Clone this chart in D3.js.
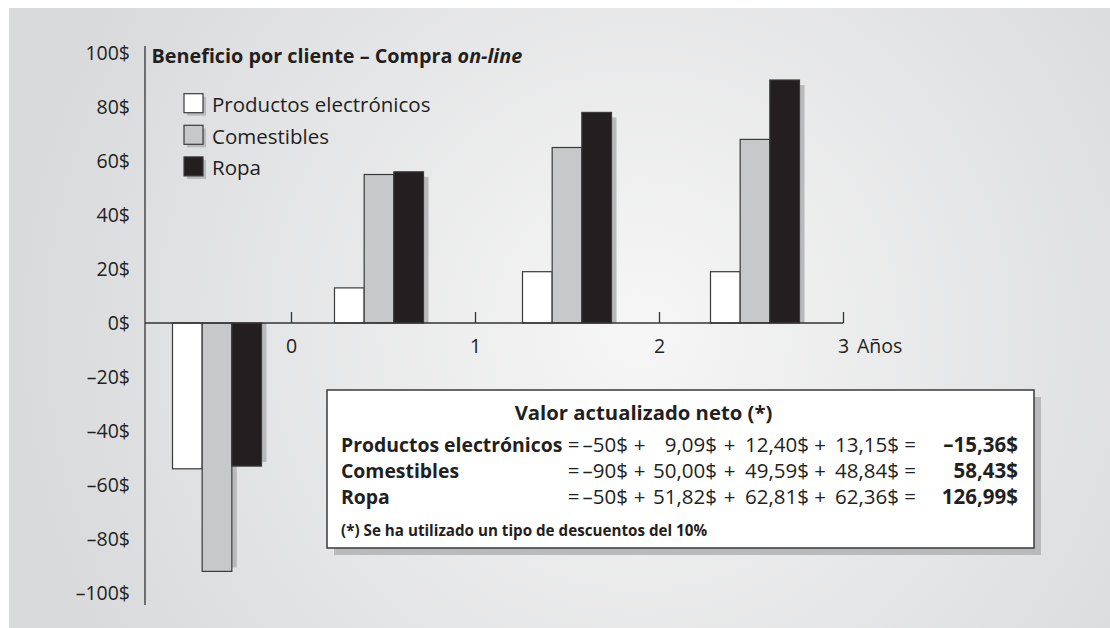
<!DOCTYPE html>
<html><head><meta charset="utf-8">
<script src="https://cdn.jsdelivr.net/npm/d3@7/dist/d3.min.js"></script>
<style>
html,body{margin:0;padding:0;background:#fff;}
svg{display:block;}
text{font-family:"Open Sans","Noto Sans",sans-serif;fill:#231f20;}
</style></head>
<body>
<svg id="chart" width="1110" height="628"></svg>
<script>
// ---- data ----
const periods = [0, 1, 2, 3];
const seriesNames = ["Productos electrónicos", "Comestibles", "Ropa"];
const electronicos = [-54, 13, 19, 19];
const comestibles = [-92, 55, 65, 68];
const ropa = [-53, 56, 78, 90];
const yTicks = [-100, -80, -60, -40, -20, 0, 20, 40, 60, 80, 100];
const xTicks = [0, 1, 2, 3];
const chartTitle = "Beneficio por cliente – Compra ";
const chartTitleItalic = "on-line";
const xAxisLabel = "Años";
const boxTitle = "Valor actualizado neto (*)";
const rowLabels = ["Productos electrónicos", "Comestibles", "Ropa"];
const rowTerms = [
  ["–50$", "9,09$", "12,40$", "13,15$"],
  ["–90$", "50,00$", "49,59$", "48,84$"],
  ["–50$", "51,82$", "62,81$", "62,36$"]
];
const rowResults = ["–15,36$", "58,43$", "126,99$"];
const footnote = "(*) Se ha utilizado un tipo de descuentos del 10%";

// ---- styles ----
const fills = ["#ffffff", "#c7c8ca", "#231f20"];
const shadowCol = "#b9babc";
const ink = "#231f20";

const svg = d3.select("#chart");
const defs = svg.append("defs");
const grad = defs.append("radialGradient").attr("id", "bg")
  .attr("gradientUnits", "userSpaceOnUse")
  .attr("cx", 640).attr("cy", 330).attr("r", 620);
grad.append("stop").attr("offset", "0").attr("stop-color", "#f6f6f6");
grad.append("stop").attr("offset", "1").attr("stop-color", "#d9dadc");
svg.append("rect").attr("x", 9).attr("y", 8).attr("width", 1101).attr("height", 620).attr("fill", "url(#bg)");

// ---- scales ----
const y = d3.scaleLinear().domain([-100, 100]).range([593, 53]);
const x = d3.scaleLinear().domain([0, 3]).range([291, 843]);
// bar groups sit between period ticks (first group before period 0)
const groupX = d3.scaleLinear().domain(periods).range([217, 379, 567, 755]);
const band = d3.scaleBand().domain(seriesNames).range([-44.5, 44.5]).padding(0);

const series = [electronicos, comestibles, ropa];

// ---- bars ----
const g = svg.append("g");
series.forEach((vals, si) => {
  vals.forEach((v, pi) => {
    const bx = groupX(periods[pi]) + band(seriesNames[si]);
    const bw = band.bandwidth();
    const y0 = y(0), y1 = y(v);
    const top = Math.min(y0, y1), h = Math.abs(y1 - y0);
    if (v >= 0) {
      g.append("rect").attr("x", bx + bw).attr("y", top + 5).attr("width", 5).attr("height", Math.max(0, h - 5)).attr("fill", shadowCol);
    } else {
      g.append("rect").attr("x", bx + bw).attr("y", y0).attr("width", 5).attr("height", Math.max(0, h - 4)).attr("fill", shadowCol);
    }
  });
});
series.forEach((vals, si) => {
  vals.forEach((v, pi) => {
    const bx = groupX(periods[pi]) + band(seriesNames[si]);
    const bw = band.bandwidth();
    const y0 = y(0), y1 = y(v);
    g.append("rect").attr("x", bx).attr("y", Math.min(y0, y1)).attr("width", bw)
      .attr("height", Math.abs(y1 - y0)).attr("fill", fills[si])
      .attr("stroke", "#3a3a3a").attr("stroke-width", 1.2);
  });
});

// ---- axes ----
const fmt = d => (d < 0 ? "–" + Math.abs(d) : d) + "$";
const yAx = svg.append("g").attr("transform", "translate(145,0)")
  .call(d3.axisLeft(y).tickValues(yTicks).tickSize(0).tickPadding(15).tickFormat(fmt));
yAx.select(".domain").remove();
yAx.selectAll("text").style("font-size", "19.5px").attr("fill", ink).style("font-family", '"Open Sans",sans-serif');
svg.append("line").attr("x1", 145).attr("x2", 145).attr("y1", 46).attr("y2", 605).attr("stroke", "#333").attr("stroke-width", 1.3);

const xAx = svg.append("g").attr("transform", `translate(0,${y(0)})`)
  .call(d3.axisBottom(x).tickValues(xTicks).tickSize(-11).tickPadding(0).tickFormat(d3.format("d")));
xAx.select(".domain").remove();
xAx.selectAll(".tick line").attr("stroke", "#333").attr("stroke-width", 1.3);
xAx.selectAll("text").attr("y", 30).attr("dy", null).style("font-size", "19.5px").attr("fill", ink).style("font-family", '"Open Sans",sans-serif');
svg.append("line").attr("x1", 145).attr("x2", x(3)).attr("y1", y(0)).attr("y2", y(0)).attr("stroke", "#333").attr("stroke-width", 1.3);
svg.append("text").attr("x", x(3) + 14).attr("y", y(0) + 30)
  .style("font-size", "19.5px").text(xAxisLabel);

// ---- title ----
const t = svg.append("text").attr("x", 151.5).attr("y", 63.3)
  .style("font-size", "19.8px").style("font-weight", "bold");
t.append("tspan").text(chartTitle);
t.append("tspan").style("font-style", "italic").text(chartTitleItalic);

// ---- legend ----
const lg = svg.append("g");
seriesNames.forEach((n, i) => {
  const bottom = 112.7 + i * 31.6;
  lg.append("rect").attr("x", 187).attr("y", bottom - 16).attr("width", 19).attr("height", 19).attr("fill", shadowCol);
  lg.append("rect").attr("x", 184).attr("y", bottom - 19).attr("width", 19).attr("height", 19)
    .attr("fill", fills[i]).attr("stroke", "#3a3a3a").attr("stroke-width", 1.2);
  lg.append("text").attr("x", 212).attr("y", bottom - 0.5).style("font-size", "20.5px").text(n);
});

// ---- NPV box ----
const bx0 = 327, by0 = 390, bx1 = 1034, by1 = 548;
svg.append("rect").attr("x", bx0 + 7).attr("y", by0 + 7).attr("width", bx1 - bx0).attr("height", by1 - by0).attr("fill", shadowCol);
svg.append("rect").attr("x", bx0).attr("y", by0).attr("width", bx1 - bx0).attr("height", by1 - by0)
  .attr("fill", "#fff").attr("stroke", "#3a3a3a").attr("stroke-width", 1.5);
svg.append("text").attr("x", 643.5).attr("y", 419.5).attr("text-anchor", "middle")
  .style("font-size", "20.3px").style("font-weight", "bold").text(boxTitle);

const fs = "20.5px";
const colEnds = [628, 717, 809, 899];
const plusX = [639.5, 729.5, 820];
rowLabels.forEach((lab, r) => {
  const base = 451.7 + r * 26.2;
  const row = svg.append("g");
  row.append("text").attr("x", 341).attr("y", base).style("font-size", "19.4px").style("font-weight", "bold").text(lab);
  row.append("text").attr("x", 573.5).attr("y", base).attr("text-anchor", "middle").style("font-size", fs).text("=");
  rowTerms[r].forEach((term, k) => {
    row.append("text").attr("x", colEnds[k]).attr("y", base).attr("text-anchor", "end").style("font-size", fs).text(term);
    if (k < 3) row.append("text").attr("x", plusX[k]).attr("y", base).attr("text-anchor", "middle").style("font-size", fs).text("+");
  });
  row.append("text").attr("x", 910).attr("y", base).attr("text-anchor", "middle").style("font-size", fs).text("=");
  row.append("text").attr("x", 1018).attr("y", base).attr("text-anchor", "end").style("font-size", fs).style("font-weight", "bold").text(rowResults[r]);
});
svg.append("text").attr("x", 341).attr("y", 536).style("font-size", "15.2px").style("font-weight", "bold").text(footnote);
</script>
</body></html>
